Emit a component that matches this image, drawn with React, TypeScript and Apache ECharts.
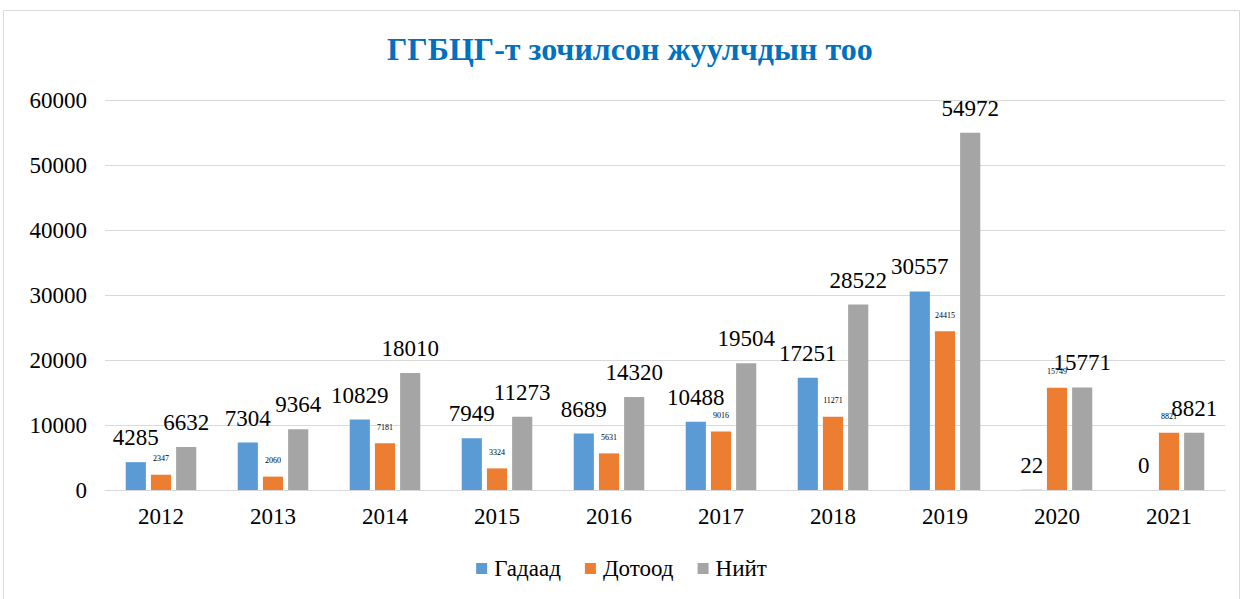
import React, { useEffect, useRef } from "react";
import * as echarts from "echarts";

const categories = ["2012", "2013", "2014", "2015", "2016", "2017", "2018", "2019", "2020", "2021"];
const gadaad = [4285, 7304, 10829, 7949, 8689, 10488, 17251, 30557, 22, 0];
const dotood = [2347, 2060, 7181, 3324, 5631, 9016, 11271, 24415, 15749, 8821];
const niit = [6632, 9364, 18010, 11273, 14320, 19504, 28522, 54972, 15771, 8821];
const seriesNames = ["Гадаад", "Дотоод", "Нийт"];
const titleText = "ГГБЦГ-т зочилсон жуулчдын тоо";

const FONT = "Liberation Serif";

export default function App() {
  const ref = useRef<HTMLDivElement>(null);
  useEffect(() => {
    if (!ref.current) return;
    const chart = echarts.init(ref.current, null, { renderer: "svg" });
    const bigLabel = {
      show: true,
      position: "top" as const,
      distance: 13,
      fontFamily: FONT,
      fontSize: 23,
      color: "#000",
    };
    chart.setOption({
      animation: false,
      backgroundColor: "#fff",
      textStyle: { fontFamily: FONT },
      title: {
        text: titleText,
        left: 382,
        top: 28,
        textStyle: { fontFamily: FONT, fontSize: 32, fontWeight: "bold", color: "#0070C0" },
      },
      graphic: [
        {
          type: "rect",
          shape: { x: 3.5, y: 10.5, width: 1236, height: 620 },
          style: { fill: "none", stroke: "#d9d9d9", lineWidth: 1 },
          silent: true,
        },
      ],
      legend: {
        bottom: 14,
        left: "center",
        itemWidth: 11,
        itemHeight: 11,
        itemGap: 24,
        icon: "rect",
        textStyle: { fontFamily: FONT, fontSize: 23, color: "#000", padding: [0, 0, 0, 2] },
        data: seriesNames,
      },
      grid: { left: 105, right: 18, top: 100, bottom: 109 },
      xAxis: {
        type: "category",
        data: categories,
        axisLine: { lineStyle: { color: "#d9d9d9", width: 1 } },
        axisTick: { show: false },
        axisLabel: { fontFamily: FONT, fontSize: 23, color: "#000", margin: 15 },
      },
      yAxis: {
        type: "value",
        min: 0,
        max: 60000,
        interval: 10000,
        axisLine: { show: false },
        axisTick: { show: false },
        splitLine: { lineStyle: { color: "#d9d9d9", width: 1 } },
        axisLabel: {
          fontFamily: FONT,
          fontSize: 23,
          color: "#000",
          margin: 18,
          formatter: (v: number) => String(v),
        },
      },
      series: [
        {
          name: seriesNames[0],
          type: "bar",
          data: gadaad,
          barGap: "25%",
          barCategoryGap: "37%",
          itemStyle: { color: "#5B9BD5" },
          label: bigLabel,
        },
        {
          name: seriesNames[1],
          type: "bar",
          data: dotood,
          itemStyle: { color: "#ED7D31" },
          label: {
            show: true,
            position: "top",
            distance: 12,
            fontFamily: FONT,
            fontSize: 8,
            color: "#000",
          },
        },
        {
          name: seriesNames[2],
          type: "bar",
          data: niit,
          itemStyle: { color: "#A5A5A5" },
          label: bigLabel,
        },
      ],
    });
    return () => chart.dispose();
  }, []);
  return (
    <div
      ref={ref}
      style={{ position: "fixed", left: 0, top: 0, width: 1243, height: 599 }}
    />
  );
}
